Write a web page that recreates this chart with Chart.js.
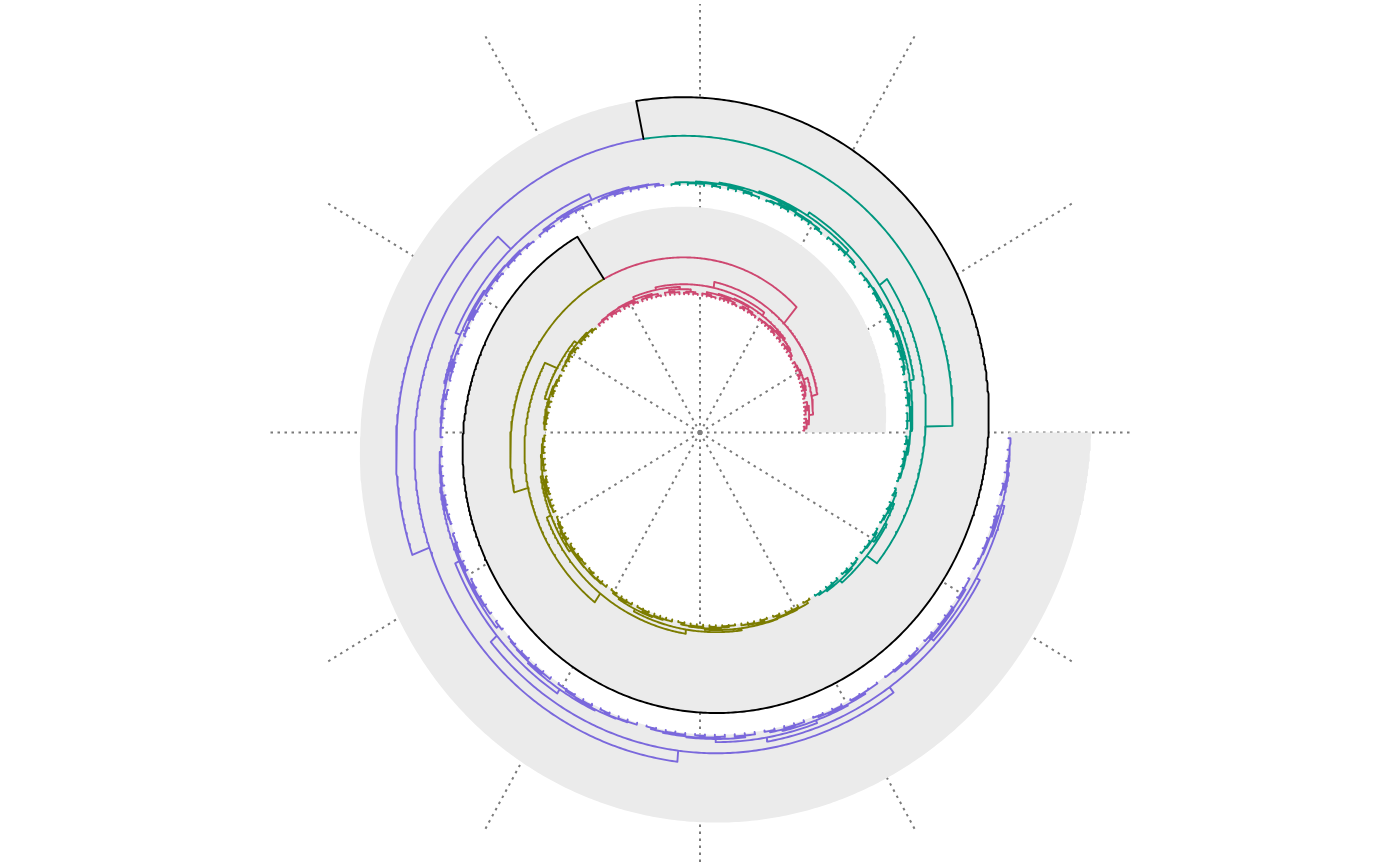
<!DOCTYPE html>
<html>
<head>
<meta charset="utf-8">
<script src="https://cdn.jsdelivr.net/npm/chart.js@4.4.1/dist/chart.umd.min.js"></script>
<style>
html,body{margin:0;padding:0;background:#ffffff;}
#wrap{width:1400px;height:866px;position:relative;overflow:hidden;}
</style>
</head>
<body>
<div id="wrap"><canvas id="c" width="1400" height="866"></canvas></div>
<script>
// ================= DATA =================
// Dendrogram written in a compact nested form: "o" = leaf, "( ... )h" = merge at height h
// (heights in track units, 0 = leaves, track top = root height)
const clusterNames  = ['cluster 1', 'cluster 2', 'cluster 3', 'cluster 4'];
const clusterColors = ['#CE4770', '#7C7C00', '#00977F', '#7A68DC'];
const rootColor = '#000000';

const redTree =
  "(" +
    "(" + "(((oo)1(oo)2)3((ooo)1.5o)3.5)5" + "(((oo)1.5(ooo)2)3((oo)1(ooo)2.5)3.2)4.5" + ")9" +
    "(" +
      "(" + "(((oo)1(ooo)2)3((oo)1.5((oo)1(oooo)2)2.5)3.5)4.5" + "(((ooo)1.5(oo)1)2.8(((oo)1(ooo)1.8)2.5((ooo)1o)2)4)5" + ")6" +
      "(" + "(((oo)1(oo)1.5)2.5((ooo)2o)2.8)4.8" + "(((oo)1(ooo)2)3(((oo)1.2(oo)2)2.6((ooo)1.5(ooo)2)3)3.6)4.2" + ")7" +
    ")9.5" +
  ")15";

const oliveTree =
  "(" +
    "(" + "(((oo)1(ooo)2)2.8((oo)1.5(oooo)2.2)3)4" + "(((ooo)1.5(oo)1)2.5((oo)2((ooo)1.2o)1.8)3)3.5" + ")7.4" +
    "(" +
      "(" + "((((oo)1(oo)1.5)2.2(ooo)2)3(((oo)1(oo)1.2)2(ooo)2.5)3.3)4" + "(((ooo)1(oo)2)2.6(((oo)1.5(ooo)1)2.4((oo)1(ooo)2)2.8)3.2)3.6" + ")6" +
      "(" + "(((oo)1(ooo)1.8)2.6((ooo)1.2(oooo)2)3)4" + "((((oo)1(ooo)2)2.6((oo)1.5(ooo)1)2.2)3.2(((ooo)1.8(oo)1)2.5(((oo)1.2(ooo)2.2)3(oo)1)3.3)3.8)4.5" + ")6.5" +
    ")10.5" +
  ")20.5";

const tealTree =
  "(" +
    "(" + "(((oo)1(ooo)1.8)2.5((oo)1.2(oo)2)2.8)4" + "(((ooo)1.5(oo)1)2.5(((oo)1(oo)1.6)2.2(oo)1.2)3)5" + ")7" +
    "(" +
      "(" + "((((oo)1(ooo)1.6)2.4(oo)1.2)3((ooo)1(oooo)2)3.5)4.5" + "(((oo)1.4(ooo)2)2.8(((oo)1(oo)1.5)2.2((ooo)1.2(ooo)2)2.6)3.4)4" + ")6" +
      "(" + "((oo)1(oooo)2)3" + "((((oo)1(ooo)2)2.6((oo)1.5(oo)1)2)3.2(((ooo)1.2(oo)2)2.8((oo)1(ooo)1.8(oo)1.2)2.6)3.6)5" + ")6.5" +
    ")10" +
  ")19.5";

const purpleTree =
  "(" +
    "(" +
      "((((oo)1(ooo)2)2.6((oo)1.2(oo)1.8)2.4)3.2(((ooo)1.5(oo)1)2.3((oo)1o)1.8)3.5)4.5" +
      "(" + "((((oo)1(ooo)1.6)2.4((oo)1.2(oo)2)2.8)3.4((ooo)1(oo)1.5)2.6)4" + "(((oo)1.5(ooo)1)2.4((oo)1(oooo)2.2)3)3.8" + ")5.5" +
    ")10.5" +
    "(" +
      "(" + "((((oo)1(ooo)2)2.6((oo)1.4(oo)1)2)3.2(((ooo)1.2(oo)2)2.8((oo)1(ooo)1.8)2.5)3.5(oo)1.5)4.5" + "((((oo)1(oo)1.5)2.2(ooo)2)3(((ooo)1(oo)1.8)2.4((oo)1.2(ooo)2)2.7)3.4)4.5" + ")9" +
      "(" +
        "(" + "((((oo)1(ooo)1.7)2.3((oo)1.2(oo)2)2.6)3.2(ooo)2.2)4" + "(((oo)1.4(ooo)2)2.8(((oo)1(oo)1.6)2.2(oooo)1.2)3)4.2" + ")7" +
        "(" + "(((ooo)1(oo)1.6)2.4(((oo)1.2(ooo)2)2.6(ooo)1.5)3.2)4" + "((((oo)1(oo)1.4)2(ooo)1.8)2.8((oo)1.2(oooo)2.2)3.1)4.4" + ")7" +
      ")11" +
    ")17.5" +
  ")28";

const clusterTrees = [redTree, oliveTree, tealTree, purpleTree];
// upper merges: [cluster1+cluster2, cluster3+cluster4, root]
const upperMergeHeights = [35, 46.5, 83];
const spokeAngles = [0, 30, 60, 90, 120, 150, 180, 210, 240, 270, 300, 330];

// ================= GEOMETRY HELPERS =================
const DEG = Math.PI / 180;
const PITCH = 103.5 / 360;      // radial growth per degree of the spiral
const TRACK = 83;               // track height
const SPIRAL_TURNS_DEG = 720;   // two turns
const SPOKE_LEN = 435;

function toXY(theta, h) {
  const r = PITCH * (theta + 360) + h;
  return { x: r * Math.cos(theta * DEG), y: r * Math.sin(theta * DEG) };
}

function parseTree(src) {
  const s = src.replace(/\s+/g, '');
  let i = 0;
  function node() {
    if (s[i] === 'o') { i++; return { leaf: true, h: 0, children: [] }; }
    i++; // '('
    const children = [];
    while (s[i] !== ')') children.push(node());
    i++; // ')'
    const j = i;
    while (i < s.length && /[0-9.]/.test(s[i])) i++;
    return { leaf: false, h: parseFloat(s.slice(j, i)), children };
  }
  return node();
}

function setColor(n, c) { n.color = c; n.children.forEach(ch => setColor(ch, c)); }

const subtrees = clusterTrees.map((t, k) => { const n = parseTree(t); setColor(n, clusterColors[k]); return n; });
const nodeA = { leaf: false, h: upperMergeHeights[0], children: [subtrees[0], subtrees[1]], color: rootColor };
const nodeB = { leaf: false, h: upperMergeHeights[1], children: [subtrees[2], subtrees[3]], color: rootColor };
const root  = { leaf: false, h: upperMergeHeights[2], children: [nodeA, nodeB], color: rootColor };

function countLeaves(n) { return n.leaf ? 1 : n.children.reduce((a, c) => a + countLeaves(c), 0); }
const nLeaves = countLeaves(root);
const degPerLeaf = SPIRAL_TURNS_DEG / nLeaves;
let leafIdx = 0;
function place(n) {
  if (n.leaf) { n.pos = (leafIdx + 0.5) * degPerLeaf; leafIdx++; return; }
  n.children.forEach(place);
  n.pos = (n.children[0].pos + n.children[n.children.length - 1].pos) / 2;
}
place(root);

const linesByColor = {};
function pushArc(out, t0, t1, h) {
  const n = Math.max(1, Math.ceil(Math.abs(t1 - t0) / 0.5));
  for (let k = 0; k <= n; k++) out.push(toXY(t0 + (t1 - t0) * k / n, h));
}
function buildEdges(n) {
  if (n.leaf) return;
  n.children.forEach(c => {
    const key = c.color;
    if (!linesByColor[key]) linesByColor[key] = [];
    const out = linesByColor[key];
    pushArc(out, n.pos, c.pos, n.h);
    out.push(toXY(c.pos, c.h));
    out.push({ x: null, y: null });
    buildEdges(c);
  });
}
buildEdges(root);

const bandPts = [];
for (let t = 0; t <= SPIRAL_TURNS_DEG; t += 0.5) bandPts.push(toXY(t, TRACK));
for (let t = SPIRAL_TURNS_DEG; t >= 0; t -= 0.5) bandPts.push(toXY(t, 0));

const spokePts = [];
spokeAngles.forEach(a => {
  spokePts.push({ x: 0, y: 0 });
  spokePts.push({ x: SPOKE_LEN * Math.cos(a * DEG), y: SPOKE_LEN * Math.sin(a * DEG) });
  spokePts.push({ x: null, y: null });
});

// ================= CHART =================
const SY = 1.07;
const CY = 432.5;
const H = 866;
const yMax = CY / SY;
const yMin = yMax - H / SY;

const datasets = [];
const colorOrder = [rootColor].concat(clusterColors);
colorOrder.forEach(col => {
  if (!linesByColor[col]) return;
  datasets.push({
    label: col, data: linesByColor[col], showLine: true, fill: false,
    borderColor: col, borderWidth: 1.9, pointRadius: 0, pointHoverRadius: 0,
    borderJoinStyle: 'round', borderCapStyle: 'round', spanGaps: false, order: 1
  });
});
datasets.push({
  label: 'centre', data: [{ x: 0, y: 0 }], showLine: false,
  pointRadius: 2.6, pointBackgroundColor: '#7f7f7f', pointBorderWidth: 0, order: 2
});
datasets.push({
  label: 'track', data: bandPts, showLine: true, fill: 'shape',
  backgroundColor: '#EBEBEB', borderColor: 'rgba(0,0,0,0)', borderWidth: 0,
  pointRadius: 0, pointHoverRadius: 0, order: 8
});
datasets.push({
  label: 'spokes', data: spokePts, showLine: true, fill: false,
  borderColor: '#7a7a7a', borderWidth: 2, borderDash: [2.5, 4.5],
  pointRadius: 0, pointHoverRadius: 0, spanGaps: false, order: 9
});

new Chart(document.getElementById('c'), {
  type: 'scatter',
  data: { datasets },
  options: {
    responsive: false,
    devicePixelRatio: 1,
    animation: false,
    events: [],
    layout: { padding: 0 },
    plugins: { legend: { display: false }, tooltip: { enabled: false } },
    scales: {
      x: { type: 'linear', min: -700, max: 700, display: false },
      y: { type: 'linear', min: yMin, max: yMax, display: false }
    }
  }
});
</script>
</body>
</html>
